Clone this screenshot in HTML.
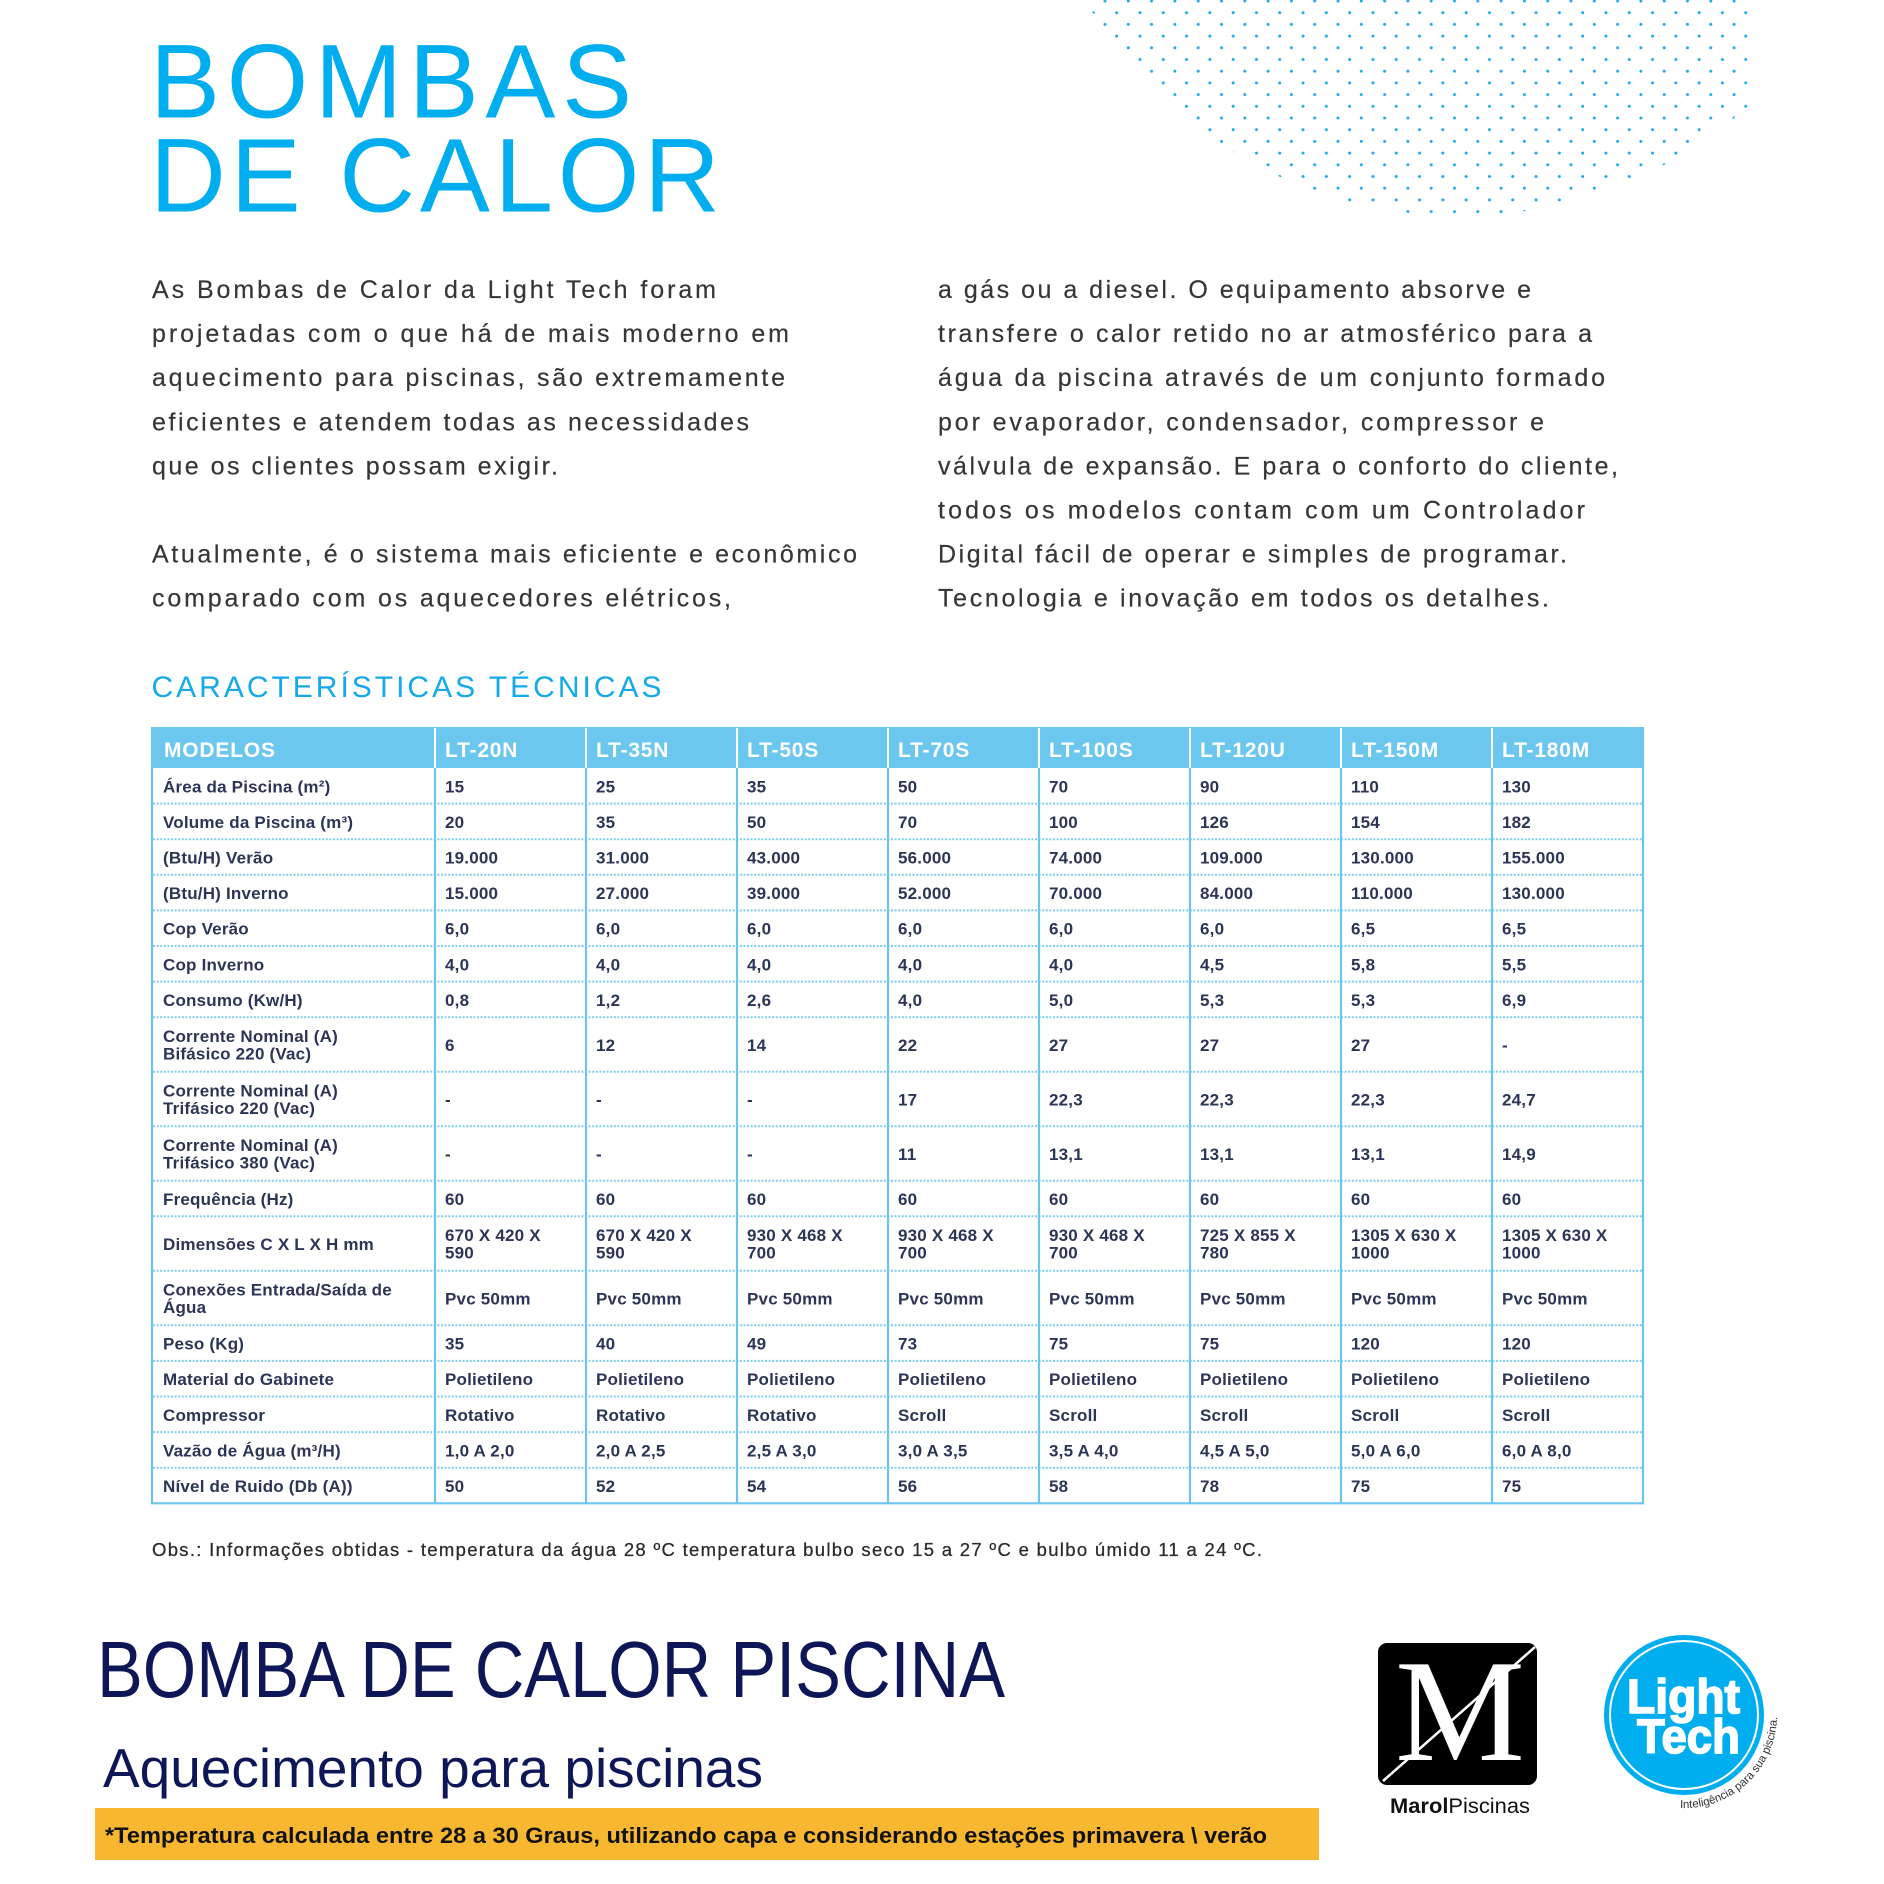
<!DOCTYPE html>
<html><head><meta charset="utf-8"><style>
html,body{margin:0;padding:0;background:#fff;}
body{width:1884px;height:1884px;overflow:hidden;position:relative;}
svg{position:absolute;left:0;top:0;}
.b{font-family:"Liberation Sans",sans-serif;font-size:25px;fill:#363636;stroke:#363636;stroke-width:0.2px;}
.l{font-family:"Liberation Sans",sans-serif;font-size:17px;font-weight:bold;fill:#2b3556;letter-spacing:0.2px;}
.h{font-family:"Liberation Sans",sans-serif;font-size:21px;font-weight:bold;fill:#fff;letter-spacing:0.8px;}
</style></head><body>
<svg width="1884" height="1884" viewBox="0 0 1884 1884" xmlns="http://www.w3.org/2000/svg">
<defs>
<pattern id="dp" x="1075.875" y="-4.85" width="23.3" height="23.4" patternUnits="userSpaceOnUse">
<circle cx="5.825" cy="5.85" r="1.5" fill="#1eaae8"/><circle cx="17.475" cy="17.55" r="1.5" fill="#1eaae8"/>
</pattern>
<clipPath id="dc"><circle cx="1460" cy="-217" r="433"/></clipPath>
<path id="arc" d="M1680 1808 A93 93 0 0 0 1777 1711" fill="none"/>
</defs>
<rect x="1070" y="0" width="679" height="230" fill="url(#dp)" clip-path="url(#dc)"/>

<!-- Title -->
<g font-family="'Liberation Sans',sans-serif" font-size="105" fill="#00aeef">
<text x="150" y="117.5" textLength="482" lengthAdjust="spacing">BOMBAS</text>
<text x="150" y="211.5" textLength="570" lengthAdjust="spacing">DE CALOR</text>
</g>

<!-- Body -->
<text class="b" x="152" y="298" textLength="564" lengthAdjust="spacing">As Bombas de Calor da Light Tech foram</text>
<text class="b" x="152" y="342.1" textLength="637" lengthAdjust="spacing">projetadas com o que há de mais moderno em</text>
<text class="b" x="152" y="386.2" textLength="633" lengthAdjust="spacing">aquecimento para piscinas, são extremamente</text>
<text class="b" x="152" y="430.3" textLength="597" lengthAdjust="spacing">eficientes e atendem todas as necessidades</text>
<text class="b" x="152" y="474.4" textLength="406" lengthAdjust="spacing">que os clientes possam exigir.</text>
<text class="b" x="152" y="562.6" textLength="705" lengthAdjust="spacing">Atualmente, é o sistema mais eficiente e econômico</text>
<text class="b" x="152" y="606.7" textLength="579" lengthAdjust="spacing">comparado com os aquecedores elétricos,</text>

<text class="b" x="938" y="298" textLength="593" lengthAdjust="spacing">a gás ou a diesel. O equipamento absorve e</text>
<text class="b" x="938" y="342.1" textLength="654" lengthAdjust="spacing">transfere o calor retido no ar atmosférico para a</text>
<text class="b" x="938" y="386.2" textLength="667" lengthAdjust="spacing">água da piscina através de um conjunto formado</text>
<text class="b" x="938" y="430.3" textLength="606" lengthAdjust="spacing">por evaporador, condensador, compressor e</text>
<text class="b" x="938" y="474.4" textLength="680" lengthAdjust="spacing">válvula de expansão. E para o conforto do cliente,</text>
<text class="b" x="938" y="518.5" textLength="647" lengthAdjust="spacing">todos os modelos contam com um Controlador</text>
<text class="b" x="938" y="562.6" textLength="629" lengthAdjust="spacing">Digital fácil de operar e simples de programar.</text>
<text class="b" x="938" y="606.7" textLength="611" lengthAdjust="spacing">Tecnologia e inovação em todos os detalhes.</text>

<text x="151.5" y="697" font-family="'Liberation Sans',sans-serif" font-size="30" fill="#12aae8" textLength="510" lengthAdjust="spacing">CARACTERÍSTICAS TÉCNICAS</text>

<!-- Table structure -->
<rect x="151" y="727" width="1493" height="41" fill="#6cc7ef"/>
<g stroke="#fff" stroke-width="2">
<path d="M435 728V768M586 728V768M737 728V768M888 728V768M1039 728V768M1190 728V768M1341 728V768M1492 728V768"/>
</g>
<g stroke="#7ccdf0" stroke-width="2" stroke-dasharray="2 1.6">
<path d="M153 803.6H1643M153 839.2H1643M153 874.8H1643M153 910.4H1643M153 946H1643M153 981.6H1643M153 1017.2H1643M153 1071.7H1643M153 1126.2H1643M153 1180.7H1643M153 1216.3H1643M153 1270.8H1643M153 1325.3H1643M153 1360.9H1643M153 1396.5H1643M153 1432.1H1643M153 1467.7H1643"/>
</g>
<g stroke="#6cc5ee" stroke-width="2.2" fill="none">
<path d="M152 768V1503.5M435 768V1503.5M586 768V1503.5M737 768V1503.5M888 768V1503.5M1039 768V1503.5M1190 768V1503.5M1341 768V1503.5M1492 768V1503.5M1643 727V1503.5M151 1503.3H1644"/>
</g>

<!-- Header -->
<text class="h" x="164" y="757">MODELOS</text>
<text class="h" x="445" y="757">LT-20N</text>
<text class="h" x="596" y="757">LT-35N</text>
<text class="h" x="747" y="757">LT-50S</text>
<text class="h" x="898" y="757">LT-70S</text>
<text class="h" x="1049" y="757">LT-100S</text>
<text class="h" x="1200" y="757">LT-120U</text>
<text class="h" x="1351" y="757">LT-150M</text>
<text class="h" x="1502" y="757">LT-180M</text>

<!-- Rows -->
<g class="l">
<text class="l" x="163" y="792.3">Área da Piscina (m²)</text>
<text class="l" x="445" y="792.3">15</text><text class="l" x="596" y="792.3">25</text><text class="l" x="747" y="792.3">35</text><text class="l" x="898" y="792.3">50</text><text class="l" x="1049" y="792.3">70</text><text class="l" x="1200" y="792.3">90</text><text class="l" x="1351" y="792.3">110</text><text class="l" x="1502" y="792.3">130</text>

<text class="l" x="163" y="827.9">Volume da Piscina (m³)</text>
<text class="l" x="445" y="827.9">20</text><text class="l" x="596" y="827.9">35</text><text class="l" x="747" y="827.9">50</text><text class="l" x="898" y="827.9">70</text><text class="l" x="1049" y="827.9">100</text><text class="l" x="1200" y="827.9">126</text><text class="l" x="1351" y="827.9">154</text><text class="l" x="1502" y="827.9">182</text>

<text class="l" x="163" y="863.5">(Btu/H) Verão</text>
<text class="l" x="445" y="863.5">19.000</text><text class="l" x="596" y="863.5">31.000</text><text class="l" x="747" y="863.5">43.000</text><text class="l" x="898" y="863.5">56.000</text><text class="l" x="1049" y="863.5">74.000</text><text class="l" x="1200" y="863.5">109.000</text><text class="l" x="1351" y="863.5">130.000</text><text class="l" x="1502" y="863.5">155.000</text>

<text class="l" x="163" y="899.1">(Btu/H) Inverno</text>
<text class="l" x="445" y="899.1">15.000</text><text class="l" x="596" y="899.1">27.000</text><text class="l" x="747" y="899.1">39.000</text><text class="l" x="898" y="899.1">52.000</text><text class="l" x="1049" y="899.1">70.000</text><text class="l" x="1200" y="899.1">84.000</text><text class="l" x="1351" y="899.1">110.000</text><text class="l" x="1502" y="899.1">130.000</text>

<text class="l" x="163" y="934.7">Cop Verão</text>
<text class="l" x="445" y="934.7">6,0</text><text class="l" x="596" y="934.7">6,0</text><text class="l" x="747" y="934.7">6,0</text><text class="l" x="898" y="934.7">6,0</text><text class="l" x="1049" y="934.7">6,0</text><text class="l" x="1200" y="934.7">6,0</text><text class="l" x="1351" y="934.7">6,5</text><text class="l" x="1502" y="934.7">6,5</text>

<text class="l" x="163" y="970.3">Cop Inverno</text>
<text class="l" x="445" y="970.3">4,0</text><text class="l" x="596" y="970.3">4,0</text><text class="l" x="747" y="970.3">4,0</text><text class="l" x="898" y="970.3">4,0</text><text class="l" x="1049" y="970.3">4,0</text><text class="l" x="1200" y="970.3">4,5</text><text class="l" x="1351" y="970.3">5,8</text><text class="l" x="1502" y="970.3">5,5</text>

<text class="l" x="163" y="1005.9">Consumo (Kw/H)</text>
<text class="l" x="445" y="1005.9">0,8</text><text class="l" x="596" y="1005.9">1,2</text><text class="l" x="747" y="1005.9">2,6</text><text class="l" x="898" y="1005.9">4,0</text><text class="l" x="1049" y="1005.9">5,0</text><text class="l" x="1200" y="1005.9">5,3</text><text class="l" x="1351" y="1005.9">5,3</text><text class="l" x="1502" y="1005.9">6,9</text>

<text class="l" x="163" y="1041.9">Corrente Nominal (A)</text><text class="l" x="163" y="1059.6">Bifásico 220 (Vac)</text>
<text class="l" x="445" y="1050.9">6</text><text class="l" x="596" y="1050.9">12</text><text class="l" x="747" y="1050.9">14</text><text class="l" x="898" y="1050.9">22</text><text class="l" x="1049" y="1050.9">27</text><text class="l" x="1200" y="1050.9">27</text><text class="l" x="1351" y="1050.9">27</text><text class="l" x="1502" y="1050.9">-</text>

<text class="l" x="163" y="1096.4">Corrente Nominal (A)</text><text class="l" x="163" y="1114.1">Trifásico 220 (Vac)</text>
<text class="l" x="445" y="1105.4">-</text><text class="l" x="596" y="1105.4">-</text><text class="l" x="747" y="1105.4">-</text><text class="l" x="898" y="1105.4">17</text><text class="l" x="1049" y="1105.4">22,3</text><text class="l" x="1200" y="1105.4">22,3</text><text class="l" x="1351" y="1105.4">22,3</text><text class="l" x="1502" y="1105.4">24,7</text>

<text class="l" x="163" y="1150.9">Corrente Nominal (A)</text><text class="l" x="163" y="1168.6">Trifásico 380 (Vac)</text>
<text class="l" x="445" y="1159.9">-</text><text class="l" x="596" y="1159.9">-</text><text class="l" x="747" y="1159.9">-</text><text class="l" x="898" y="1159.9">11</text><text class="l" x="1049" y="1159.9">13,1</text><text class="l" x="1200" y="1159.9">13,1</text><text class="l" x="1351" y="1159.9">13,1</text><text class="l" x="1502" y="1159.9">14,9</text>

<text class="l" x="163" y="1205">Frequência (Hz)</text>
<text class="l" x="445" y="1205">60</text><text class="l" x="596" y="1205">60</text><text class="l" x="747" y="1205">60</text><text class="l" x="898" y="1205">60</text><text class="l" x="1049" y="1205">60</text><text class="l" x="1200" y="1205">60</text><text class="l" x="1351" y="1205">60</text><text class="l" x="1502" y="1205">60</text>

<text class="l" x="163" y="1250">Dimensões C X L X H mm</text>
<text class="l" x="445" y="1241">670 X 420 X</text><text class="l" x="445" y="1258.7">590</text>
<text class="l" x="596" y="1241">670 X 420 X</text><text class="l" x="596" y="1258.7">590</text>
<text class="l" x="747" y="1241">930 X 468 X</text><text class="l" x="747" y="1258.7">700</text>
<text class="l" x="898" y="1241">930 X 468 X</text><text class="l" x="898" y="1258.7">700</text>
<text class="l" x="1049" y="1241">930 X 468 X</text><text class="l" x="1049" y="1258.7">700</text>
<text class="l" x="1200" y="1241">725 X 855 X</text><text class="l" x="1200" y="1258.7">780</text>
<text class="l" x="1351" y="1241">1305 X 630 X</text><text class="l" x="1351" y="1258.7">1000</text>
<text class="l" x="1502" y="1241">1305 X 630 X</text><text class="l" x="1502" y="1258.7">1000</text>

<text class="l" x="163" y="1295.5">Conexões Entrada/Saída de</text><text class="l" x="163" y="1313.2">Água</text>
<text class="l" x="445" y="1304.5">Pvc 50mm</text><text class="l" x="596" y="1304.5">Pvc 50mm</text><text class="l" x="747" y="1304.5">Pvc 50mm</text><text class="l" x="898" y="1304.5">Pvc 50mm</text><text class="l" x="1049" y="1304.5">Pvc 50mm</text><text class="l" x="1200" y="1304.5">Pvc 50mm</text><text class="l" x="1351" y="1304.5">Pvc 50mm</text><text class="l" x="1502" y="1304.5">Pvc 50mm</text>

<text class="l" x="163" y="1349.6">Peso (Kg)</text>
<text class="l" x="445" y="1349.6">35</text><text class="l" x="596" y="1349.6">40</text><text class="l" x="747" y="1349.6">49</text><text class="l" x="898" y="1349.6">73</text><text class="l" x="1049" y="1349.6">75</text><text class="l" x="1200" y="1349.6">75</text><text class="l" x="1351" y="1349.6">120</text><text class="l" x="1502" y="1349.6">120</text>

<text class="l" x="163" y="1385.2">Material do Gabinete</text>
<text class="l" x="445" y="1385.2">Polietileno</text><text class="l" x="596" y="1385.2">Polietileno</text><text class="l" x="747" y="1385.2">Polietileno</text><text class="l" x="898" y="1385.2">Polietileno</text><text class="l" x="1049" y="1385.2">Polietileno</text><text class="l" x="1200" y="1385.2">Polietileno</text><text class="l" x="1351" y="1385.2">Polietileno</text><text class="l" x="1502" y="1385.2">Polietileno</text>

<text class="l" x="163" y="1420.8">Compressor</text>
<text class="l" x="445" y="1420.8">Rotativo</text><text class="l" x="596" y="1420.8">Rotativo</text><text class="l" x="747" y="1420.8">Rotativo</text><text class="l" x="898" y="1420.8">Scroll</text><text class="l" x="1049" y="1420.8">Scroll</text><text class="l" x="1200" y="1420.8">Scroll</text><text class="l" x="1351" y="1420.8">Scroll</text><text class="l" x="1502" y="1420.8">Scroll</text>

<text class="l" x="163" y="1456.4">Vazão de Água (m³/H)</text>
<text class="l" x="445" y="1456.4">1,0 A 2,0</text><text class="l" x="596" y="1456.4">2,0 A 2,5</text><text class="l" x="747" y="1456.4">2,5 A 3,0</text><text class="l" x="898" y="1456.4">3,0 A 3,5</text><text class="l" x="1049" y="1456.4">3,5 A 4,0</text><text class="l" x="1200" y="1456.4">4,5 A 5,0</text><text class="l" x="1351" y="1456.4">5,0 A 6,0</text><text class="l" x="1502" y="1456.4">6,0 A 8,0</text>

<text class="l" x="163" y="1492">Nível de Ruido (Db (A))</text>
<text class="l" x="445" y="1492">50</text><text class="l" x="596" y="1492">52</text><text class="l" x="747" y="1492">54</text><text class="l" x="898" y="1492">56</text><text class="l" x="1049" y="1492">58</text><text class="l" x="1200" y="1492">78</text><text class="l" x="1351" y="1492">75</text><text class="l" x="1502" y="1492">75</text>
</g>

<!-- Obs -->
<text x="152" y="1556" font-family="'Liberation Sans',sans-serif" font-size="18.5" fill="#2a2a2a" stroke="#2a2a2a" stroke-width="0.25" textLength="1110" lengthAdjust="spacing">Obs.: Informações obtidas - temperatura da água 28 ºC temperatura bulbo seco 15 a 27 ºC e bulbo úmido 11 a 24 ºC.</text>

<!-- Bottom headings -->
<text x="97" y="1697" font-family="'Liberation Sans',sans-serif" font-size="80" fill="#0d1657" textLength="908" lengthAdjust="spacingAndGlyphs">BOMBA DE CALOR PISCINA</text>
<text x="103" y="1787" font-family="'Liberation Sans',sans-serif" font-size="55" fill="#0d1657" textLength="660" lengthAdjust="spacingAndGlyphs">Aquecimento para piscinas</text>

<rect x="95" y="1808" width="1224" height="52" fill="#f7b731"/>
<text x="105" y="1843" font-family="'Liberation Sans',sans-serif" font-size="22" font-weight="bold" fill="#111" textLength="1162" lengthAdjust="spacingAndGlyphs">*Temperatura calculada entre 28 a 30 Graus, utilizando capa e considerando estações primavera \ verão</text>

<!-- Marol logo -->
<rect x="1378" y="1643" width="159" height="142" rx="9" fill="#000"/>
<text x="1460" y="1760" text-anchor="middle" font-family="'Liberation Serif',serif" font-size="146" fill="#fff">M</text>
<path d="M1383 1781L1535 1647" stroke="#fff" stroke-width="2.5"/>
<text x="1390" y="1813" font-family="'Liberation Sans',sans-serif" font-size="21" fill="#111" textLength="140" lengthAdjust="spacingAndGlyphs"><tspan font-weight="bold">Marol</tspan>Piscinas</text>

<!-- Light Tech logo -->
<circle cx="1684" cy="1715" r="80" fill="#00aeef"/>
<circle cx="1684" cy="1715" r="74" fill="none" stroke="#fff" stroke-width="2"/>
<g font-family="'Liberation Sans',sans-serif" font-weight="bold" font-size="48" fill="#fff" stroke="#fff" stroke-width="1.6">
<text x="1627" y="1713" textLength="113" lengthAdjust="spacingAndGlyphs">Light</text>
<text x="1637" y="1753" textLength="103" lengthAdjust="spacingAndGlyphs">Tech</text>
</g>
<text font-family="'Liberation Sans',sans-serif" font-size="11.5" fill="#333"><textPath href="#arc" textLength="148" lengthAdjust="spacing">Inteligência para sua piscina.</textPath></text>
</svg>
</body></html>
